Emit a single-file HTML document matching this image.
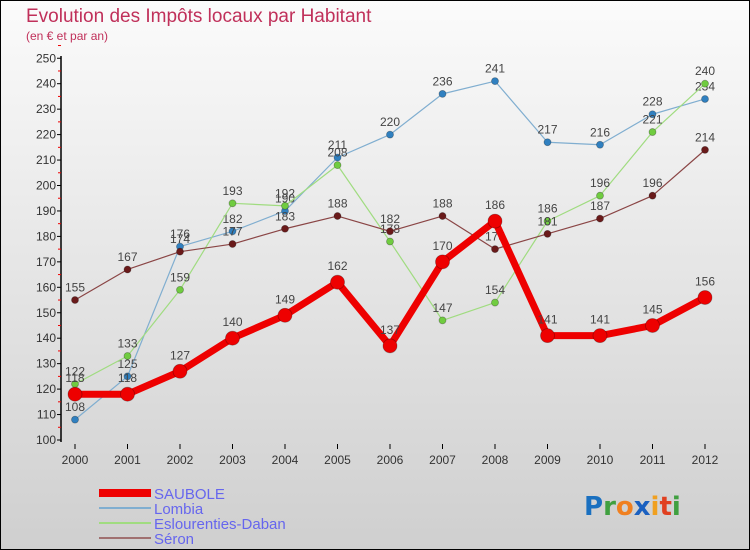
<!DOCTYPE html>
<html><head><meta charset="utf-8"><style>
body{margin:0;width:750px;height:550px;overflow:hidden;font-family:"Liberation Sans",sans-serif}
#c{position:absolute;left:0;top:0;width:748px;height:548px;border:1px solid #000;background:linear-gradient(#fbfbfb,#cfcfcf)}
</style></head><body>
<div id="c">
<svg id="s" width="750" height="550" style="position:absolute;left:-1px;top:-1px">
<text x="26" y="22" font-size="19" fill="#c0305a">Evolution des Impôts locaux par Habitant</text>
<text x="26" y="40" font-size="12" fill="#c0305a">(en € et par an)</text>
<g id="ax"></g><g id="series"></g>
<g>
<rect x="99" y="489" width="52" height="8" fill="#e00"/>
<text x="154" y="499" font-size="15" fill="#6666ee">SAUBOLE</text>
<rect x="99" y="507" width="52" height="2" fill="#80aed0"/>
<text x="154" y="514" font-size="15" fill="#6666ee">Lombia</text>
<rect x="99" y="522" width="52" height="2" fill="#a0dc80"/>
<text x="154" y="529" font-size="15" fill="#6666ee">Eslourenties-Daban</text>
<rect x="99" y="537" width="52" height="2" fill="#a07070"/>
<text x="154" y="544" font-size="15" fill="#6666ee">Séron</text>
</g>
<g font-size="26" font-weight="bold" font-family="'DejaVu Sans',sans-serif">
<text x="584" y="515"><tspan fill="#1a70c0">P</tspan><tspan fill="#40a040">r</tspan><tspan fill="#f08020">o</tspan><tspan fill="#1a60c0">x</tspan><tspan fill="#f0a020">i</tspan><tspan fill="#e04020">t</tspan><tspan fill="#40a040">i</tspan></text>
</g>
</svg></div>
<script>
const years=[2000,2001,2002,2003,2004,2005,2006,2007,2008,2009,2010,2011,2012];
const saubole=[118,118,127,140,149,162,137,170,186,141,141,145,156];
const lombia=[108,125,176,182,190,211,220,236,241,217,216,228,234];
const eslourenties=[122,133,159,193,192,208,178,147,154,186,196,221,240];
const seron=[155,167,174,177,183,188,182,188,175,181,187,196,214];
const yTicks=[100,110,120,130,140,150,160,170,180,190,200,210,220,230,240,250];
const NS="http://www.w3.org/2000/svg";
const x=i=>75+i*52.5;
const y=v=>440-(v-100)*2.545;
function mk(t,a,p){const e=document.createElementNS(NS,t);for(const k in a)e.setAttribute(k,a[k]);p.appendChild(e);return e;}
const ax=document.getElementById('ax');
const axis=mk('line',{x1:61,y1:56,x2:61,y2:442,stroke:'#000','stroke-width':1.5},ax);


yTicks.forEach(v=>{
 mk('line',{x1:57,x2:61,y1:y(v),y2:y(v),stroke:'#000'},ax);
 mk('line',{x1:58,x2:61,y1:y(v+5),y2:y(v+5),stroke:'#e00'},ax);
 const t=mk('text',{x:56,y:y(v)+4,'font-size':12,'text-anchor':'end',fill:'#333'},ax);t.textContent=v;
 
 
});
years.forEach((yr,i)=>{
 mk('line',{x1:x(i),x2:x(i),y1:444,y2:449,stroke:'#000'},ax);
 const t=mk('text',{x:x(i),y:464,'font-size':12,'text-anchor':'middle',fill:'#333'},ax);t.textContent=yr;
 
 
});
const sg=document.getElementById('series');
function draw(data,color,w,r,name,dot){
 const g=mk('g',{},sg);
 
 
 mk('polyline',{points:data.map((v,i)=>x(i)+','+y(v)).join(' '),fill:'none',stroke:color,'stroke-width':w,'stroke-linejoin':'round'},g);
 data.forEach((v,i)=>{
  const c=mk('circle',{cx:x(i),cy:y(v),r:r,fill:dot,stroke:'rgba(0,0,0,0.3)','stroke-width':0.8},g);
  
  
  const t=mk('text',{x:x(i),y:y(v)-r-5,'font-size':12,'text-anchor':'middle',fill:'#444'},g);t.textContent=v;
 });
}
draw(lombia,'#80aed0',1.2,3.5,'lombia','#3080c0');
draw(eslourenties,'#a0dc80',1.2,3.5,'eslourenties','#70cc40');
draw(seron,'#8a4545',1.2,3.5,'seron','#6a1a1a');
draw(saubole,'#ee0000',7,7,'saubole','#ee0000');
</script>
</body></html>
